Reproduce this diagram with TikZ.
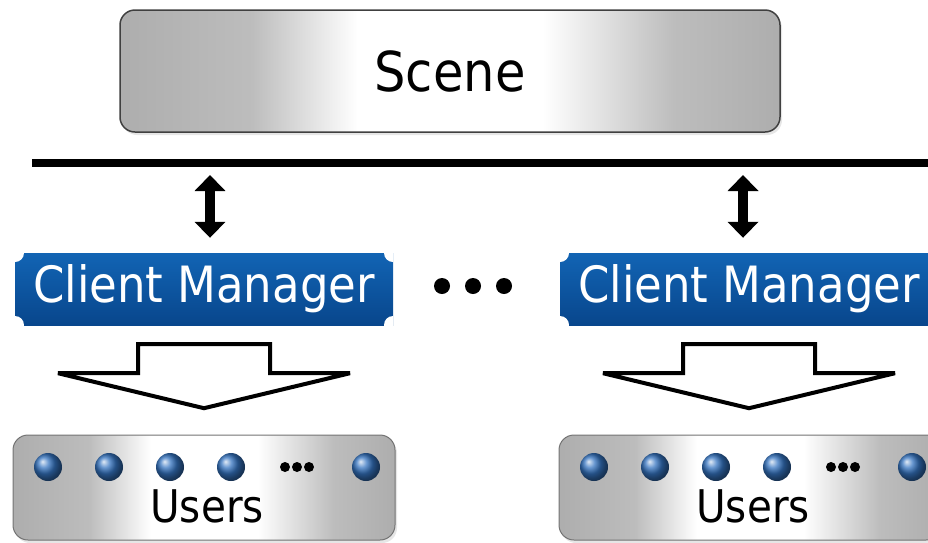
\documentclass[tikz,border=0pt]{standalone}
\usepackage{fontspec}
\usetikzlibrary{arrows.meta,shadows}
\newfontfamily\diafont{DejaVu Sans Condensed}

\definecolor{cmtop}{RGB}{18,100,180}
\definecolor{cmbot}{RGB}{8,70,140}
\definecolor{ballblue}{RGB}{30,100,185}
\pgfdeclarehorizontalshading{silver}{100bp}{color(0bp)=(black!32); color(25bp)=(black!32);
  color(35bp)=(black!26); color(43bp)=(white); color(57bp)=(white); color(67bp)=(black!26);
  color(75bp)=(black!32); color(100bp)=(black!32)}

\tikzset{
  silverbox/.style={shape=rectangle, rounded corners=15pt, draw=black!75, line width=1.5pt,
    shading=silver, drop shadow={opacity=0.2, shadow xshift=2pt, shadow yshift=-3pt}},
  cmbox/.style={shape=rectangle, top color=cmtop, bottom color=cmbot, text=white,
    font=\diafont\fontsize{50}{60}\selectfont, minimum width=378pt, minimum height=72pt,
    path picture={\foreach \c in {north west,north east,south west,south east}
      \fill[white] (path picture bounding box.\c) circle[radius=9pt];}},
  dblarrow/.style={line width=10pt, {Triangle[width=30pt,length=16pt]}-{Triangle[width=30pt,length=16pt]},
    shorten <=12pt, shorten >=15pt},
  ball/.style={shading=ball, ball color=ballblue!90!white},
  pics/fatarrow/.style={code={
    \draw[line width=4pt, miter limit=4, fill=white] (-66,0) -- (66,0) -- (66,-29) -- (146,-29)
      -- (0,-64) -- (-146,-29) -- (-66,-29) -- cycle;}}
}

\begin{document}
\begin{tikzpicture}[x=1pt,y=1pt]
  \useasboundingbox (0,0) rectangle (928,-542);
  \clip (0,0) rectangle (928,-542);

  % scene and bus
  \node[silverbox, minimum width=660pt, minimum height=122pt,
    font=\diafont\fontsize{55}{66}\selectfont] (scene) at (450,-71) {Scene};
  \coordinate (busL) at (32,-163);
  \coordinate (busR) at (928,-163);
  \draw[line width=8pt] (busL) -- (busR);

  % client managers
  \node[cmbox] (cm1) at (204,-289) {Client Manager};
  \node[cmbox] (cm2) at (749,-289) {Client Manager};
  \draw[dblarrow] ([xshift=6pt]cm1.north |- busL) -- ([xshift=6pt]cm1.north);
  \draw[dblarrow] ([xshift=-6pt]cm2.north |- busL) -- ([xshift=-6pt]cm2.north);
  \foreach \x in {442,473,504}
    \fill (\x,-286) circle[radius=8];

  % users
  \pic at ([yshift=-19pt]cm1.south) {fatarrow};
  \pic at ([yshift=-19pt]cm2.south) {fatarrow};
  \node[silverbox, draw=black!55, line width=1pt, minimum width=382pt, minimum height=105pt] (users1) at (204,-487.5) {};
  \node[silverbox, draw=black!55, line width=1pt, minimum width=382pt, minimum height=105pt] (users2) at (750,-487.5) {};
  \node[font=\diafont\fontsize{45}{54}\selectfont, anchor=base] (ulabel1) at (207,-522) {Users};
  \node[font=\diafont\fontsize{45}{54}\selectfont, anchor=base] (ulabel2) at (753,-522) {Users};
  \foreach \dx in {0,546} {
    \foreach \x in {48,109,170,231,366}
      \shade[ball] (\x+\dx,-467) circle[radius=14];
    \foreach \x in {285,297,309}
      \fill (\x+\dx,-467) circle[radius=5];
  }
\end{tikzpicture}
\end{document}
